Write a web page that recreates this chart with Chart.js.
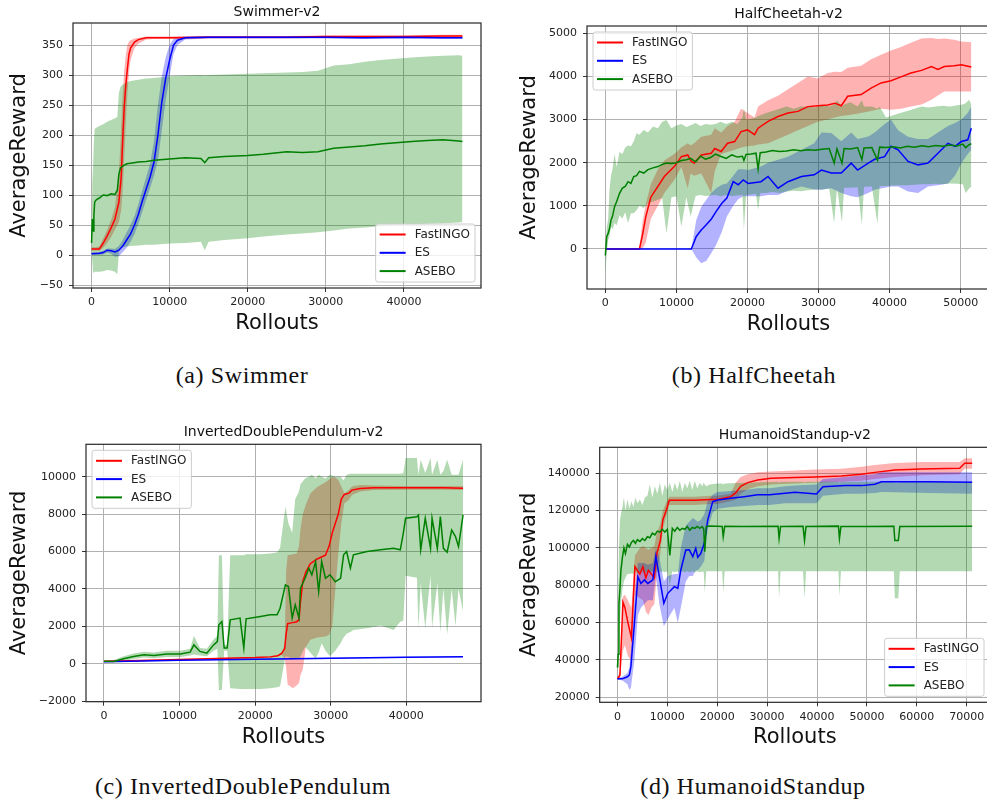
<!DOCTYPE html>
<html>
<head>
<meta charset="utf-8">
<script src="https://cdn.jsdelivr.net/npm/chart.js@4.4.1/dist/chart.umd.min.js"></script>
<style>
  html, body { margin: 0; padding: 0; background: #fff; }
  body { width: 987px; height: 803px; overflow: hidden; position: relative; }
  canvas { position: absolute; }
  .cap {
    position: absolute; transform: translate(-50%, -50%);
    font-family: "Liberation Serif", "Times New Roman", serif; font-size: 24px;
    letter-spacing: 0.6px; color: #111; white-space: nowrap;
  }
</style>
</head>
<body>
<canvas id="cSwim" width="490" height="340" style="left:0;top:0"></canvas>
<canvas id="cCheetah" width="500" height="340" style="left:495px;top:0"></canvas>
<canvas id="cPend" width="490" height="340" style="left:0;top:415px"></canvas>
<canvas id="cHum" width="500" height="340" style="left:495px;top:415px"></canvas>
<div class="cap" style="left:242px;top:375px">(a) Swimmer</div>
<div class="cap" style="left:754px;top:375px">(b) HalfCheetah</div>
<div class="cap" style="left:243px;top:786px">(c) InvertedDoublePendulum</div>
<div class="cap" style="left:753px;top:786px">(d) HumanoidStandup</div>
<script>
// ---------- Swimmer-v2 ----------
const swimFastX     = [0, 500, 1000, 1500, 2000, 2500, 3000, 3500, 3800, 4000, 4200, 4400, 4600, 4800, 5000, 5500, 6000, 7000, 8000, 10000, 15000, 20000, 25000, 30000, 35000, 40000, 45000, 47500];
const swimFastMean  = [10, 10, 10, 20, 32, 45, 60, 88, 130, 195, 250, 285, 312, 335, 345, 355, 359, 362, 362, 362, 363, 363, 363, 364, 364, 364, 365, 365];
const swimFastUpper = [13, 13, 14, 28, 42, 58, 80, 135, 215, 270, 310, 335, 350, 356, 358, 361, 362, 364, 364, 364, 365, 365, 365, 366, 366, 366, 367, 367];
const swimFastLower = [7, 7, 7, 12, 20, 30, 42, 55, 75, 110, 165, 225, 270, 305, 325, 345, 352, 359, 360, 360, 361, 361, 361, 362, 362, 362, 363, 363];

const swimEsX     = [0, 1000, 1500, 2000, 2500, 3000, 3500, 4000, 4500, 5000, 5500, 6000, 6500, 7000, 7500, 8000, 8500, 9000, 9500, 10000, 10500, 11000, 12000, 15000, 20000, 25000, 30000, 35000, 40000, 45000, 47500];
const swimEsMean  = [2, 3, 4, 8, 7, 5, 8, 15, 25, 35, 50, 68, 90, 110, 130, 155, 200, 255, 295, 325, 350, 358, 362, 363, 363, 363, 363, 362, 363, 362, 362];
const swimEsUpper = [4, 5, 7, 11, 11, 10, 15, 25, 38, 50, 65, 85, 108, 130, 152, 190, 250, 298, 330, 350, 360, 363, 364, 365, 365, 365, 365, 364, 365, 364, 364];
const swimEsLower = [0, 0, 1, 4, 2, -3, -2, 5, 12, 22, 35, 52, 72, 92, 112, 132, 158, 208, 258, 298, 335, 350, 359, 361, 361, 361, 361, 360, 361, 360, 360];

const swimAseboX     = [0, 100, 200, 300, 400, 600, 1000, 1500, 2000, 2500, 3000, 3300, 3500, 3700, 4000, 4500, 5000, 6000, 7000, 8000, 10000, 12000, 14000, 14500, 15000, 17000, 20000, 22000, 25000, 27000, 29000, 31000, 33000, 35000, 37000, 39000, 41000, 43000, 45000, 47000, 47500];
const swimAseboMean  = [20, 60, 40, 65, 88, 92, 95, 100, 99, 102, 101, 108, 135, 145, 148, 152, 153, 155, 156, 158, 160, 162, 161, 154, 162, 164, 166, 168, 172, 171, 172, 178, 180, 182, 185, 187, 189, 191, 192, 190, 189];
const swimAseboUpper = [40, 120, 150, 190, 210, 212, 215, 218, 222, 225, 228, 230, 270, 280, 284, 288, 290, 292, 294, 295, 298, 299, 300, 299, 300, 301, 302, 303, 304, 305, 307, 316, 318, 322, 325, 327, 329, 331, 332, 333, 332];
const swimAseboLower = [5, -10, -30, -30, -28, -28, -28, -27, -25, -26, -28, -32, 5, 12, 13, 14, 15, 16, 17, 17, 19, 20, 22, 8, 22, 25, 28, 31, 34, 36, 38, 41, 44, 46, 48, 50, 51, 52, 53, 54, 55];

const swimXTicks = [0, 10000, 20000, 30000, 40000];
const swimYTicks = [-50, 0, 50, 100, 150, 200, 250, 300, 350];

// ---------- HalfCheetah-v2 ----------
const cheetahFastX     = [0, 4800, 5200, 5700, 6400, 7400, 8300, 9700, 10700, 11600, 12000, 12500, 13500, 14900, 15400, 16300, 17200, 18200, 19100, 20000, 21000, 21500, 22900, 24300, 25700, 27100, 28500, 29900, 31300, 32300, 33200, 34100, 36000, 37400, 38800, 40200, 41600, 43000, 44500, 45900, 46800, 47700, 49100, 50100, 51500];
const cheetahFastMean  = [0, 0, 300, 750, 1200, 1450, 1680, 1910, 2140, 2180, 2050, 1990, 2180, 2220, 2330, 2260, 2450, 2490, 2720, 2760, 2650, 2800, 2960, 3070, 3150, 3190, 3300, 3320, 3340, 3380, 3320, 3540, 3580, 3730, 3850, 3900, 3990, 4080, 4140, 4230, 4160, 4230, 4250, 4270, 4220];
const cheetahFastUpper = [0, 0, 600, 1050, 1500, 1850, 2050, 2200, 2350, 2450, 2400, 2450, 2600, 2650, 2800, 2700, 2850, 2950, 3250, 3150, 3050, 3300, 3450, 3550, 3700, 3850, 4000, 3950, 4080, 4110, 4100, 4200, 4250, 4400, 4500, 4600, 4680, 4780, 4880, 4890, 4870, 4880, 4850, 4810, 4790];
const cheetahFastLower = [0, 0, 0, 150, 700, 1000, 1300, 1600, 1900, 1400, 1750, 1700, 1750, 1300, 1800, 2200, 2250, 2300, 2350, 2380, 2400, 2420, 2450, 2550, 2650, 2750, 2850, 2950, 3000, 3050, 3080, 3100, 3150, 3200, 3250, 3230, 3250, 3300, 3350, 3460, 3560, 3650, 3650, 3650, 3650];

const cheetahEsX     = [0, 12100, 12800, 13500, 14200, 14900, 15600, 16400, 17100, 18000, 18700, 19400, 20100, 21900, 22900, 24300, 25700, 27600, 29400, 30400, 31800, 33200, 34600, 35500, 37000, 37900, 39300, 40200, 41200, 42600, 44000, 45400, 46800, 48200, 49200, 50100, 51000, 51500];
const cheetahEsMean  = [0, 0, 290, 440, 560, 690, 870, 1060, 1180, 1560, 1490, 1600, 1520, 1560, 1680, 1410, 1560, 1680, 1720, 1830, 1760, 1760, 1990, 1830, 1990, 2080, 2140, 2380, 2300, 2030, 1950, 1990, 2220, 2450, 2380, 2490, 2530, 2800];
const cheetahEsUpper = [0, 0, 670, 980, 1140, 1300, 1410, 1490, 1520, 1700, 1850, 1850, 1830, 1910, 2000, 2070, 2140, 2300, 2450, 2700, 2690, 2500, 2700, 2550, 2610, 2700, 2900, 3000, 2750, 2600, 2550, 2550, 2700, 2850, 2920, 3000, 3150, 3300];
const cheetahEsLower = [0, 0, -200, -330, -280, -100, 100, 400, 750, 1000, 1150, 1220, 1220, 1220, 1250, 1250, 1350, 1450, 1380, 1370, 1410, 1300, 1220, 1200, 1300, 1370, 1420, 1450, 1450, 1330, 1300, 1450, 1480, 1520, 1700, 1990, 2200, 2300];

const cheetahAseboX     = [0, 200, 400, 600, 800, 1000, 1300, 1600, 2000, 2400, 2800, 3200, 3600, 4000, 4400, 4800, 5400, 6000, 6700, 7400, 8000, 8600, 9300, 10000, 10700, 11400, 12000, 12700, 13400, 14100, 14800, 15500, 16200, 17000, 17800, 18600, 19300, 19500, 19800, 20500, 21200, 21500, 21800, 22600, 23500, 24500, 25500, 26500, 27500, 28500, 29500, 30500, 31500, 32200, 32600, 33300, 33600, 34500, 35500, 36100, 36400, 37500, 38300, 38600, 39500, 40500, 41500, 42500, 43500, 44500, 45500, 46500, 47500, 48500, 49500, 50300, 50700, 51200, 51500];
const cheetahAseboMean  = [-150, 290, 360, 480, 670, 750, 980, 1100, 1290, 1410, 1450, 1560, 1520, 1680, 1700, 1800, 1760, 1840, 1880, 1910, 1960, 1990, 1980, 2000, 2050, 2070, 2100, 2020, 2150, 2080, 2120, 2200, 2150, 2100, 2180, 2130, 2150, 2050, 2190, 2200, 2220, 1850, 2230, 2250, 2280, 2260, 2270, 2300, 2280, 2300, 2290, 2310, 2330, 1990, 2320, 1990, 2330, 2320, 2350, 2070, 2340, 2350, 2060, 2360, 2350, 2370, 2340, 2380, 2360, 2390, 2370, 2400, 2380, 2410, 2390, 2430, 2350, 2420, 2440];
const cheetahAseboUpper = [0, 500, 700, 1400, 1700, 1850, 2200, 1900, 2250, 2200, 2350, 2400, 2380, 2500, 2680, 2650, 2760, 2700, 2840, 2800, 2950, 2990, 2800, 2860, 2900, 2830, 2870, 2920, 2850, 2900, 2880, 2900, 2950, 2900, 2950, 2900, 3050, 3270, 3000, 3020, 3050, 3080, 3100, 3150, 3200, 3250, 3300, 3250, 3300, 3300, 3280, 3350, 3300, 3350, 3450, 3300, 3350, 3400, 3300, 3450, 3300, 3300, 3250, 3300, 3050, 3100, 3150, 3200, 3250, 3300, 3280, 3300, 3320, 3300, 3330, 3350, 3380, 3460, 3350];
const cheetahAseboLower = [-600, -100, 210, 300, 520, 450, 600, 550, 780, 700, 850, 600, 830, 830, 900, 1000, 950, 1060, 1100, 1140, 1180, 360, 1200, 1220, 520, 1200, 750, 1230, 1250, 1230, 1240, 1250, 1220, 1250, 1230, 1240, 1250, 440, 1250, 1260, 1280, 900, 1300, 1300, 1320, 1300, 1330, 1350, 1340, 1360, 1380, 1380, 1400, 600, 1410, 620, 1420, 1420, 1430, 560, 1440, 1450, 580, 1460, 1460, 1470, 1480, 1480, 1490, 1500, 1500, 1510, 1500, 1520, 1510, 1500, 1300, 1400, 1450];

const cheetahXTicks = [0, 10000, 20000, 30000, 40000, 50000];
const cheetahYTicks = [0, 1000, 2000, 3000, 4000, 5000];

// ---------- InvertedDoublePendulum-v2 ----------
const pendFastX     = [0, 5000, 10000, 15000, 20000, 22000, 23000, 23500, 23900, 24100, 24300, 25000, 25500, 25800, 26000, 26300, 26700, 27300, 28200, 29300, 29800, 30200, 30600, 31000, 31400, 31800, 32400, 32800, 33900, 35700, 40000, 45000, 47500];
const pendFastMean  = [130, 180, 230, 280, 330, 370, 430, 550, 800, 1600, 2150, 2200, 2250, 2350, 3300, 4400, 4900, 5350, 5600, 5800, 6300, 7000, 7500, 8000, 8800, 9050, 9120, 9280, 9370, 9400, 9400, 9400, 9380];
const pendFastUpper = [160, 210, 260, 310, 360, 400, 470, 620, 1000, 5000, 5800, 5850, 5900, 6300, 7200, 8000, 8500, 9100, 9450, 9700, 9850, 10000, 9950, 9820, 9470, 9110, 9290, 9470, 9560, 9520, 9500, 9500, 9480];
const pendFastLower = [100, 150, 200, 250, 300, 340, 390, 480, 300, -200, -1100, -1300, -1150, -1030, -600, -320, 900, 1280, 1400, 1460, 1550, 2000, 3950, 5900, 7500, 8580, 8750, 9020, 9200, 9290, 9300, 9300, 9280];

const pendEsX     = [0, 5000, 10000, 15000, 20000, 25000, 30000, 35000, 40000, 47500];
const pendEsMean  = [110, 150, 190, 215, 240, 265, 290, 320, 345, 380];
const pendEsUpper = [140, 180, 220, 245, 270, 295, 320, 350, 375, 410];
const pendEsLower = [80, 120, 160, 185, 210, 235, 260, 290, 315, 350];

const pendAseboX     = [0, 1300, 2600, 3900, 5300, 6600, 8300, 10100, 11400, 11900, 12700, 13600, 14500, 15000, 15200, 15600, 15900, 16300, 16700, 18000, 18500, 18800, 20700, 22000, 22900, 23300, 24000, 24400, 24900, 25300, 25800, 26000, 26600, 27100, 27500, 28000, 28400, 28800, 29300, 29900, 30600, 31300, 31700, 32100, 32600, 33000, 34800, 36600, 38300, 39200, 39600, 39900, 41400, 41600, 41900, 42500, 43200, 43400, 44100, 44500, 44900, 45400, 46000, 46500, 46900, 47500];
const pendAseboMean  = [130, 125, 270, 390, 480, 445, 520, 520, 620, 1010, 660, 570, 1010, 1190, 2080, 2260, 840, 840, 2350, 2440, 840, 2400, 2530, 2620, 2620, 2970, 4220, 4130, 2440, 3150, 2440, 4040, 4570, 5110, 4750, 5460, 3860, 5460, 4570, 4750, 4390, 4570, 5820, 6000, 5110, 5820, 6000, 6090, 6170, 6090, 6980, 7780, 7860, 7950, 6090, 7780, 6170, 7780, 6170, 7860, 6170, 5960, 7150, 6800, 6260, 7950];
const pendAseboUpper = [150, 200, 400, 550, 650, 600, 700, 700, 800, 1500, 850, 800, 1300, 1500, 5800, 5800, 1000, 1000, 5800, 5800, 5800, 5850, 5850, 5900, 5950, 6200, 8400, 7500, 7000, 8800, 9200, 9600, 9900, 10000, 10100, 9900, 10100, 10000, 9900, 10100, 10000, 10000, 9800, 10100, 10150, 10150, 10150, 10150, 10150, 10150, 10200, 11000, 11000, 10100, 10900, 10200, 11000, 10100, 10900, 10100, 10300, 10900, 10100, 10100, 10100, 10900];
const pendAseboLower = [110, 100, 150, 250, 330, 300, 360, 370, 450, 500, 450, 400, 700, 800, -1400, -1400, 700, 700, -1300, -1350, -1350, -1350, -1350, -1300, -1250, -1200, 400, 350, 300, 300, 300, 400, 900, 700, 500, 300, 600, 1100, 700, 400, 700, 1100, 1400, 1600, 1700, 1800, 1900, 2050, 1800, 2250, 2300, 4700, 4600, 1900, 4300, 1900, 4700, 1900, 4300, 1700, 4000, 1550, 4000, 2000, 4000, 2800];

const pendXTicks = [0, 10000, 20000, 30000, 40000];
const pendYTicks = [-2000, 0, 2000, 4000, 6000, 8000, 10000];

// ---------- HumanoidStandup-v2 ----------
const humFastX     = [0, 500, 1100, 1500, 2100, 2800, 3500, 4500, 5100, 5700, 6200, 6800, 7400, 7900, 8600, 9100, 9700, 10400, 15500, 18700, 20000, 22700, 23700, 24700, 26100, 28100, 30800, 35600, 39600, 44900, 48900, 51600, 55600, 61000, 68600, 69600, 71100];
const humFastMean  = [30000, 31800, 71000, 68000, 60000, 52000, 90000, 86000, 90000, 84000, 88000, 86000, 84000, 97000, 104000, 115000, 119500, 125500, 125500, 126000, 126000, 127500, 129500, 133000, 135000, 136400, 137300, 137700, 138000, 138600, 139500, 140500, 141800, 142300, 142700, 145400, 145400];
const humFastUpper = [30500, 34000, 74000, 75000, 72000, 68000, 96000, 100000, 101000, 100000, 99000, 100000, 101000, 108000, 113000, 120000, 124000, 127500, 127500, 128000, 128000, 129000, 135000, 138000, 139500, 140500, 141000, 141500, 142000, 142500, 143500, 144500, 145500, 146000, 146000, 148000, 148000];
const humFastLower = [29000, 30000, 45000, 48000, 42000, 40000, 75000, 73000, 72000, 66000, 64000, 68000, 70000, 86000, 97000, 110000, 116000, 123000, 123000, 123500, 123500, 125000, 126000, 129000, 131500, 133000, 134000, 134500, 135000, 135500, 136000, 137000, 138000, 139000, 139500, 142500, 142500];

const humEsX     = [0, 1000, 2000, 2400, 2700, 3400, 4100, 4700, 5400, 6100, 7100, 7700, 8400, 9300, 10100, 11400, 12100, 12700, 13700, 14400, 15100, 15700, 16100, 16700, 17400, 18100, 19100, 20100, 22700, 25400, 28100, 30500, 33600, 35600, 39900, 41200, 45600, 48900, 51600, 52900, 62300, 71100];
const humEsMean  = [30000, 30000, 31000, 32000, 36400, 59600, 84600, 81000, 82900, 81000, 82900, 95400, 84600, 70400, 75700, 79300, 78400, 88200, 98900, 99000, 95400, 99800, 95000, 97000, 102500, 115000, 124800, 125700, 126600, 127500, 128500, 128500, 129300, 129800, 128900, 132800, 133400, 133400, 134100, 135500, 135500, 135200];
const humEsUpper = [30500, 31000, 33000, 36000, 45000, 72000, 92000, 92000, 92000, 91000, 92000, 100000, 95000, 82000, 85000, 86000, 86000, 100000, 112000, 114000, 116000, 115000, 114000, 115000, 118000, 125000, 128500, 130000, 130500, 131000, 132000, 132000, 133000, 133500, 134000, 137000, 138000, 139000, 139500, 140500, 140500, 140500];
const humEsLower = [29500, 29000, 27000, 24000, 25000, 40000, 64000, 68000, 70000, 72000, 72000, 85000, 70000, 58000, 62000, 68000, 60000, 68000, 82000, 85000, 85000, 88000, 88000, 90000, 93000, 110000, 119000, 121000, 122000, 122500, 123000, 123000, 124000, 124000, 124000, 128000, 129000, 129000, 129500, 130000, 129500, 129000];

const humAseboX     = [0, 150, 300, 500, 700, 1000, 1300, 1600, 2000, 2400, 2800, 3200, 3600, 4000, 4500, 5000, 5500, 6000, 6500, 7000, 7500, 8000, 8500, 9000, 9500, 10000, 10500, 11000, 11500, 12000, 12500, 13000, 13500, 14000, 14500, 15000, 15500, 16000, 16500, 17000, 17300, 17500, 17800, 18500, 20000, 21000, 21200, 21500, 25000, 32200, 32400, 32700, 37200, 37500, 37800, 44300, 44500, 44800, 50000, 55400, 55600, 56300, 56600, 71100];
const humAseboMean  = [36000, 43000, 70000, 78000, 88000, 95000, 100000, 97000, 102000, 100500, 103000, 104000, 102500, 104500, 103500, 105000, 104000, 106000, 105500, 108000, 107000, 109000, 108500, 110000, 108500, 110000, 96000, 110500, 109000, 111000, 109500, 110500, 110000, 111500, 109500, 111000, 110500, 111500, 110500, 111500, 110000, 98000, 111500, 111800, 111700, 111500, 106000, 111600, 111500, 111600, 105000, 111500, 111600, 104000, 111500, 111700, 105000, 111500, 111500, 111600, 104000, 104000, 111500, 111600];
const humAseboUpper = [40000, 75000, 100000, 115000, 118000, 122000, 127000, 120000, 126000, 121000, 125000, 122000, 127000, 124000, 126000, 123000, 127000, 128000, 134000, 127000, 133000, 129000, 135000, 128000, 134000, 131000, 135000, 130000, 135000, 131000, 136000, 130000, 135000, 132000, 136000, 131000, 136000, 132000, 135000, 133000, 135000, 134000, 133000, 134000, 134500, 134500, 134000, 134500, 135000, 135500, 135000, 135500, 135500, 135000, 135500, 135500, 135000, 135500, 135500, 135500, 135000, 135000, 135500, 135500];
const humAseboLower = [32000, 36000, 45000, 60000, 70000, 78000, 82000, 84000, 86000, 86000, 86500, 86000, 87000, 86500, 87000, 87000, 86500, 87000, 87000, 87500, 87000, 87500, 87000, 87500, 87000, 87500, 80000, 87500, 87000, 87500, 87000, 87500, 87000, 87500, 87000, 87500, 87000, 87500, 87000, 87500, 87000, 76000, 87500, 87500, 87500, 87500, 76000, 87500, 87500, 87500, 73000, 87500, 87500, 73000, 87500, 87500, 74000, 87500, 87500, 87500, 73000, 73000, 87500, 87500];

const humXTicks = [0, 10000, 20000, 30000, 40000, 50000, 60000, 70000];
const humYTicks = [20000, 40000, 60000, 80000, 100000, 120000, 140000];

// ---------- shared drawing helpers ----------
const SANS = '"DejaVu Sans", sans-serif';
Chart.defaults.font.family = SANS;

const COLORS = {
  FastINGO: { line: '#ff0000', fill: 'rgba(255,0,0,0.3)', lineOrder: 2, fillOrder: 12 },
  ES:       { line: '#0000ff', fill: 'rgba(0,0,255,0.3)', lineOrder: 1, fillOrder: 11 },
  ASEBO:    { line: '#008000', fill: 'rgba(0,128,0,0.3)', lineOrder: 0, fillOrder: 10 }
};

const pts = (xs, ys) => xs.map((x, i) => ({ x: x, y: ys[i] }));
const fmt = v => (v < 0 ? '\u2212' + Math.abs(v) : String(v));

function seriesSets(label, xs, mean, upper, lower) {
  const c = COLORS[label];
  return [
    { data: pts(xs, upper), borderWidth: 0, borderColor: 'transparent', pointRadius: 0, fill: false, order: c.fillOrder },
    { data: pts(xs, lower), borderWidth: 0, borderColor: 'transparent', pointRadius: 0, fill: '-1',
      backgroundColor: c.fill, order: c.fillOrder },
    { label: label, data: pts(xs, mean), borderColor: c.line, borderWidth: 1.5, pointRadius: 0,
      fill: false, tension: 0, order: c.lineOrder }
  ];
}

// Axes frame on all four sides plus a framed legend placed inside the plot
const frameAndLegend = {
  id: 'frameAndLegend',
  afterDatasetsDraw(chart, args, opts) {
    const ctx = chart.ctx, a = chart.chartArea;
    ctx.save();
    const items = chart.data.datasets.filter(d => d.label);
    ctx.font = '12px ' + SANS;
    const textW = Math.max.apply(null, items.map(d => ctx.measureText(d.label).width));
    const w = 39 + textW + 5, h = 58;
    let x0, y0;
    if (opts.corner === 'br') { x0 = a.right - 6 - w; y0 = a.bottom - 6 - h; }
    else { x0 = a.left + 6; y0 = a.top + 6; }
    const r = 2.5;
    ctx.beginPath();
    ctx.moveTo(x0 + r, y0);
    ctx.lineTo(x0 + w - r, y0); ctx.arcTo(x0 + w, y0, x0 + w, y0 + r, r);
    ctx.lineTo(x0 + w, y0 + h - r); ctx.arcTo(x0 + w, y0 + h, x0 + w - r, y0 + h, r);
    ctx.lineTo(x0 + r, y0 + h); ctx.arcTo(x0, y0 + h, x0, y0 + h - r, r);
    ctx.lineTo(x0, y0 + r); ctx.arcTo(x0, y0, x0 + r, y0, r);
    ctx.closePath();
    ctx.fillStyle = 'rgba(255,255,255,0.8)';
    ctx.fill();
    ctx.strokeStyle = '#cccccc'; ctx.lineWidth = 1;
    ctx.stroke();
    ctx.textBaseline = 'middle'; ctx.textAlign = 'left';
    items.forEach((d, i) => {
      const y = y0 + 10.5 + i * 18.3;
      ctx.strokeStyle = d.borderColor; ctx.lineWidth = 2;
      ctx.beginPath(); ctx.moveTo(x0 + 4, y); ctx.lineTo(x0 + 30, y); ctx.stroke();
      ctx.fillStyle = '#222';
      ctx.fillText(d.label, x0 + 39, y + 0.5);
    });
    ctx.strokeStyle = '#262626'; ctx.lineWidth = 1.2;
    ctx.strokeRect(a.left, a.top, a.right - a.left, a.bottom - a.top);
    ctx.restore();
  }
};

function makeChart(id, p) {
  return new Chart(document.getElementById(id), {
    type: 'line',
    data: { datasets: p.datasets },
    plugins: [frameAndLegend],
    options: {
      responsive: false, animation: false, events: [],
      layout: { padding: { left: 0, right: p.rightPad, top: 0, bottom: 0 } },
      plugins: {
        legend: { display: false },
        tooltip: { enabled: false },
        title: { display: true, text: p.title, fullSize: false, color: '#111',
                 font: { family: SANS, size: 14, weight: 'normal' },
                 padding: { top: p.titlePad[0], bottom: p.titlePad[1] } },
        frameAndLegend: { corner: p.legendCorner }
      },
      scales: {
        x: {
          type: 'linear', min: p.xRange[0], max: p.xRange[1], bounds: 'data',
          afterBuildTicks: s => { s.ticks = p.xTicks.map(v => ({ value: v })); },
          afterFit: s => { s.height = p.xAxisH; },
          ticks: { callback: fmt, autoSkip: false, maxRotation: 0, padding: 4, color: '#222',
                   font: { family: SANS, size: 11 } },
          grid: { color: '#b0b0b0', lineWidth: 1, tickLength: 4, tickColor: '#333', tickWidth: 1 },
          border: { display: false },
          title: { display: true, text: 'Rollouts', color: '#111',
                   font: { family: SANS, size: 21 }, padding: { top: 0, bottom: p.xTitlePad } }
        },
        y: {
          type: 'linear', min: p.yRange[0], max: p.yRange[1], bounds: 'data',
          afterBuildTicks: s => { s.ticks = p.yTicks.map(v => ({ value: v })); },
          afterFit: s => { s.width = p.yAxisW; },
          ticks: { callback: fmt, autoSkip: false, padding: 6, color: '#222',
                   font: { family: SANS, size: 11 } },
          grid: { color: '#b0b0b0', lineWidth: 1, tickLength: 4, tickColor: '#333', tickWidth: 1 },
          border: { display: false },
          title: { display: true, text: 'AverageReward', color: '#111',
                   font: { family: SANS, size: 21 }, padding: { top: p.yTitlePad, bottom: 0 } }
        }
      }
    }
  });
}

makeChart('cSwim', {
  title: 'Swimmer-v2', titlePad: [3.6, 2.6], rightPad: 9, yAxisW: 73, xAxisH: 52,
  xRange: [-2375, 49875], yRange: [-55, 386.7], xTicks: swimXTicks, yTicks: swimYTicks,
  yTitlePad: 7.4, xTitlePad: 3.4, legendCorner: 'br',
  datasets: [].concat(
    seriesSets('FastINGO', swimFastX, swimFastMean, swimFastUpper, swimFastLower),
    seriesSets('ES', swimEsX, swimEsMean, swimEsUpper, swimEsLower),
    seriesSets('ASEBO', swimAseboX, swimAseboMean, swimAseboUpper, swimAseboLower))
});

makeChart('cCheetah', {
  title: 'HalfCheetah-v2', titlePad: [5.6, 3.6], rightPad: 5, yAxisW: 92, xAxisH: 51,
  xRange: [-2578, 54128], yRange: [-928, 5169], xTicks: cheetahXTicks, yTicks: cheetahYTicks,
  yTitlePad: 22.1, xTitlePad: 2.4, legendCorner: 'tl',
  datasets: [].concat(
    seriesSets('FastINGO', cheetahFastX, cheetahFastMean, cheetahFastUpper, cheetahFastLower),
    seriesSets('ES', cheetahEsX, cheetahEsMean, cheetahEsUpper, cheetahEsLower),
    seriesSets('ASEBO', cheetahAseboX, cheetahAseboMean, cheetahAseboUpper, cheetahAseboLower))
});

makeChart('cPend', {
  title: 'InvertedDoublePendulum-v2', titlePad: [8.9, 3.6], rightPad: 9, yAxisW: 86, xAxisH: 53.3,
  xRange: [-2375, 49875], yRange: [-2025, 11728], xTicks: pendXTicks, yTicks: pendYTicks,
  yTitlePad: 6.9, xTitlePad: 4.7, legendCorner: 'tl',
  datasets: [].concat(
    seriesSets('FastINGO', pendFastX, pendFastMean, pendFastUpper, pendFastLower),
    seriesSets('ES', pendEsX, pendEsMean, pendEsUpper, pendEsLower),
    seriesSets('ASEBO', pendAseboX, pendAseboMean, pendAseboUpper, pendAseboLower))
});

makeChart('cHum', {
  title: 'HumanoidStandup-v2', titlePad: [12.3, 3.2], rightPad: 5, yAxisW: 104.7, xAxisH: 52.7,
  xRange: [-3556, 74676], yRange: [17320, 153930], xTicks: humXTicks, yTicks: humYTicks,
  yTitlePad: 21.9, xTitlePad: 4.7, legendCorner: 'br',
  datasets: [].concat(
    seriesSets('FastINGO', humFastX, humFastMean, humFastUpper, humFastLower),
    seriesSets('ES', humEsX, humEsMean, humEsUpper, humEsLower),
    seriesSets('ASEBO', humAseboX, humAseboMean, humAseboUpper, humAseboLower))
});
</script>
</body>
</html>
